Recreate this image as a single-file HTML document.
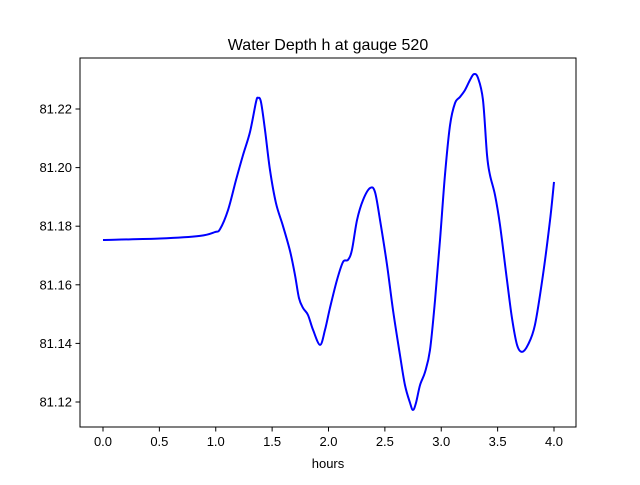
<!DOCTYPE html>
<html><head><meta charset="utf-8"><style>
body{margin:0;background:#fff;font-family:"Liberation Sans","DejaVu Sans",sans-serif}
</style></head><body>
<svg width="640" height="480" xmlns="http://www.w3.org/2000/svg">
<rect width="640" height="480" fill="#fff"/>
<text x="328" y="50" text-anchor="middle" font-size="16">Water Depth h at gauge 520</text>
<g id="ticks"></g>
<path id="line" fill="none" stroke="#0000ff" stroke-width="2"/>
<rect x="80" y="58" width="496" height="369" fill="none" stroke="#000" stroke-width="1"/>
<text x="328" y="468" text-anchor="middle" font-size="13">hours</text>
</svg>
<script>
const hours=[0,0.506,0.86,0.993,1.038,1.109,1.18,1.242,1.304,1.357,1.375,1.401,1.437,1.481,1.534,1.596,1.659,1.703,1.738,1.774,1.818,1.863,1.925,1.969,2.013,2.075,2.129,2.173,2.208,2.253,2.306,2.368,2.412,2.457,2.519,2.572,2.634,2.678,2.723,2.749,2.776,2.812,2.856,2.9,2.945,2.989,3.033,3.078,3.122,3.166,3.211,3.255,3.29,3.326,3.37,3.406,3.432,3.477,3.521,3.583,3.627,3.672,3.716,3.769,3.831,3.902,3.965,4.0];
const depth=[81.1753,81.1758,81.1767,81.178,81.179,81.1855,81.1958,81.2043,81.2122,81.2224,81.2238,81.2224,81.2128,81.1992,81.1879,81.1801,81.1715,81.1633,81.1555,81.1521,81.1497,81.1446,81.1395,81.1446,81.1521,81.1616,81.1678,81.1685,81.1719,81.1821,81.1889,81.193,81.1917,81.1821,81.1668,81.1514,81.136,81.1258,81.1197,81.1173,81.1197,81.1258,81.1302,81.1377,81.1548,81.1753,81.1975,81.2145,81.222,81.2241,81.2265,81.2299,81.2319,81.2306,81.2231,81.2043,81.1975,81.1906,81.1804,81.1616,81.1487,81.1395,81.1371,81.1395,81.1463,81.1633,81.1821,81.1951];
const xTicks=[0,0.5,1,1.5,2,2.5,3,3.5,4];
const xTickLabels=["0.0","0.5","1.0","1.5","2.0","2.5","3.0","3.5","4.0"];
const yTicks=[81.12,81.14,81.16,81.18,81.20,81.22];
const yTickLabels=["81.12","81.14","81.16","81.18","81.20","81.22"];
const X=v=>103+v*112.75;
const Y=v=>109+(81.22-v)*2930;
const NS="http://www.w3.org/2000/svg";
const g=document.getElementById('ticks');
function mk(t,a){const e=document.createElementNS(NS,t);for(const k in a)e.setAttribute(k,a[k]);g.appendChild(e);return e;}
xTicks.forEach((v,i)=>{
 const l=mk('line',{x1:X(v),x2:X(v),y1:427,y2:431.5,stroke:'#000'});
 
 
 const t=mk('text',{x:X(v),y:446,'text-anchor':'middle','font-size':'13'});
 t.textContent=xTickLabels[i];
 
 
});
yTicks.forEach((v,i)=>{
 const l=mk('line',{x1:75.5,x2:80,y1:Y(v),y2:Y(v),stroke:'#000'});
 
 
 const t=mk('text',{x:72,y:Y(v)+4.5,'text-anchor':'end','font-size':'13'});
 t.textContent=yTickLabels[i];
 
 
});
const P=hours.map((h,i)=>[X(h),Y(depth[i])]);
let d='M'+P[0][0]+','+P[0][1];
for(let i=0;i<P.length-1;i++){
 const p0=P[Math.max(0,i-1)],p1=P[i],p2=P[i+1],p3=P[Math.min(P.length-1,i+2)];
 const c1=[p1[0]+(p2[0]-p0[0])/6,p1[1]+(p2[1]-p0[1])/6];
 const c2=[p2[0]-(p3[0]-p1[0])/6,p2[1]-(p3[1]-p1[1])/6];
 d+=`C${c1[0]},${c1[1]} ${c2[0]},${c2[1]} ${p2[0]},${p2[1]}`;
}
document.getElementById('line').setAttribute('d',d);
</script>
</body></html>
